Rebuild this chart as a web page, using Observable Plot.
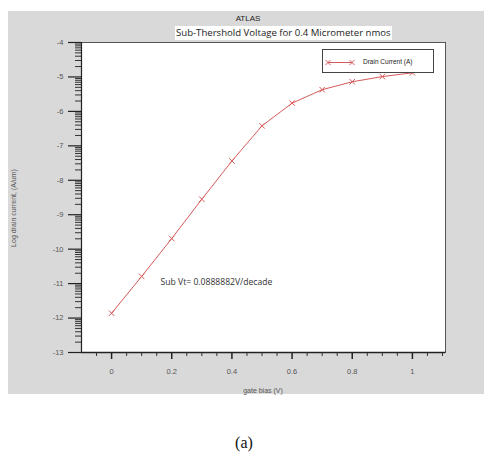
<!DOCTYPE html>
<html>
<head>
<meta charset="utf-8">
<script src="https://cdn.jsdelivr.net/npm/d3@7"></script>
<script src="https://cdn.jsdelivr.net/npm/@observablehq/plot@0.6"></script>
<style>
  html, body { margin: 0; padding: 0; background: #fff; }
  body { width: 488px; height: 455px; position: relative; overflow: hidden; font-family: Arial, "Liberation Sans", sans-serif; }
  #panel { position: absolute; left: 8px; top: 11px; width: 476px; height: 383px; background: #d9d9d9; }
  #chart { position: absolute; left: 0; top: 0; }
  .abs { position: absolute; white-space: nowrap; }
</style>
</head>
<body>
<div id="panel"><div id="chart"></div></div>
<div class="abs" id="t1" style="left:0;width:496px;top:14px;text-align:center;font-size:8px;color:#222;">ATLAS</div>
<div class="abs" id="t2" style="left:175px;top:26px;font-family:'Open Sans',sans-serif;font-size:9.6px;color:#222;background:#fff;padding:0 1px;line-height:14px;">Sub-Thershold Voltage for 0.4 Micrometer nmos</div>
<div class="abs" style="left:13px;top:208px;transform:translate(-50%,-50%) rotate(-90deg);font-size:7px;color:#555;">Log drain current, (A/um)</div>
<div class="abs" style="left:263px;top:390px;transform:translate(-50%,-50%);font-size:7px;color:#555;">gate bias (V)</div>
<div class="abs" id="legend" style="left:322px;top:49px;width:110px;height:22px;border:1px solid #444;background:#fff;">
  <svg width="40" height="22" style="position:absolute;left:0;top:0">
    <line x1="5" y1="12.5" x2="29" y2="12.5" stroke="#d65a5a" stroke-width="1"/>
    <path d="M2.5,10 L7.5,15 M7.5,10 L2.5,15 M26.5,10 L31.5,15 M31.5,10 L26.5,15" stroke="#d65a5a" stroke-width="1"/>
  </svg>
  <div class="abs" style="left:40px;top:8px;font-size:6.5px;color:#222;">Drain Current (A)</div>
</div>
<div class="abs" style="left:244px;top:443px;transform:translate(-50%,-50%);font-family:'Liberation Serif','Times New Roman',serif;font-size:16px;color:#111;">(a)</div>
<script>
// Data
const gateBias = [0, 0.1, 0.2, 0.3, 0.4, 0.5, 0.6, 0.7, 0.8, 0.9, 1.0];
const logDrainCurrent = [-11.86, -10.79, -9.69, -8.55, -7.44, -6.42, -5.76, -5.37, -5.14, -4.99, -4.88];
const xMajorTicks = [0, 0.2, 0.4, 0.6, 0.8, 1];
const xMinorTicks = [-0.05, 0.05, 0.1, 0.15, 0.25, 0.3, 0.35, 0.45, 0.5, 0.55, 0.65, 0.7, 0.75, 0.85, 0.9, 0.95, 1.05, 1.1];
const yMajorTicks = [-13, -12, -11, -10, -9, -8, -7, -6, -5, -4];
const annotation = [{x: 0.163, y: -10.97, text: "Sub Vt= 0.0888882V/decade"}];

const yMinorTicks = [];
for (let d = -13; d < -4; d++) for (let k = 2; k <= 9; k++) yMinorTicks.push(d + Math.log10(k));

const data = gateBias.map((x, i) => ({x, y: logDrainCurrent[i]}));
const red = "#d65a5a";

const chart = Plot.plot({
  width: 476,
  height: 383,
  marginLeft: 73,
  marginRight: 39,
  marginTop: 31,
  marginBottom: 42,
  style: {background: "transparent", fontFamily: "Arial, 'Liberation Sans', sans-serif"},
  x: {domain: [-0.1, 1.11]},
  y: {domain: [-13, -4]},
  marks: [
    Plot.frame({fill: "white", stroke: "none"}),
    Plot.axisY({ticks: yMinorTicks, tickSize: 6, tickFormat: null, text: null, stroke: "#333", label: null}),
    Plot.axisY({ticks: yMajorTicks, tickSize: 13, tickPadding: 5, tickFormat: d => String(d), fontSize: 7.5, fill: "#555", stroke: "#222", strokeWidth: 1.2, label: null}),
    Plot.axisX({ticks: xMinorTicks, tickSize: 4, text: null, stroke: "#333", label: null}),
    Plot.axisX({ticks: xMajorTicks, tickSize: 7, tickPadding: 9, tickFormat: d => d === 0 ? "0" : d === 1 ? "1" : d.toFixed(1), fontSize: 7.5, fill: "#555", stroke: "#222", strokeWidth: 1.5, label: null}),
    Plot.frame({stroke: "#555", strokeWidth: 1}),
    Plot.ruleY([-13], {stroke: "#222", strokeWidth: 1.5}),
    Plot.ruleX([-0.1], {stroke: "#222", strokeWidth: 1.2}),
    Plot.line(data, {x: "x", y: "y", stroke: red, strokeWidth: 1}),
    Plot.dot(data, {x: "x", y: "y", symbol: "times", r: 2.6, stroke: red, strokeWidth: 1}),
    Plot.text(annotation, {x: "x", y: "y", text: "text", textAnchor: "start", fontSize: 8.6, fill: "#333", fontFamily: "'Open Sans', sans-serif"})
  ]
});
document.getElementById("chart").appendChild(chart);
</script>
</body>
</html>
